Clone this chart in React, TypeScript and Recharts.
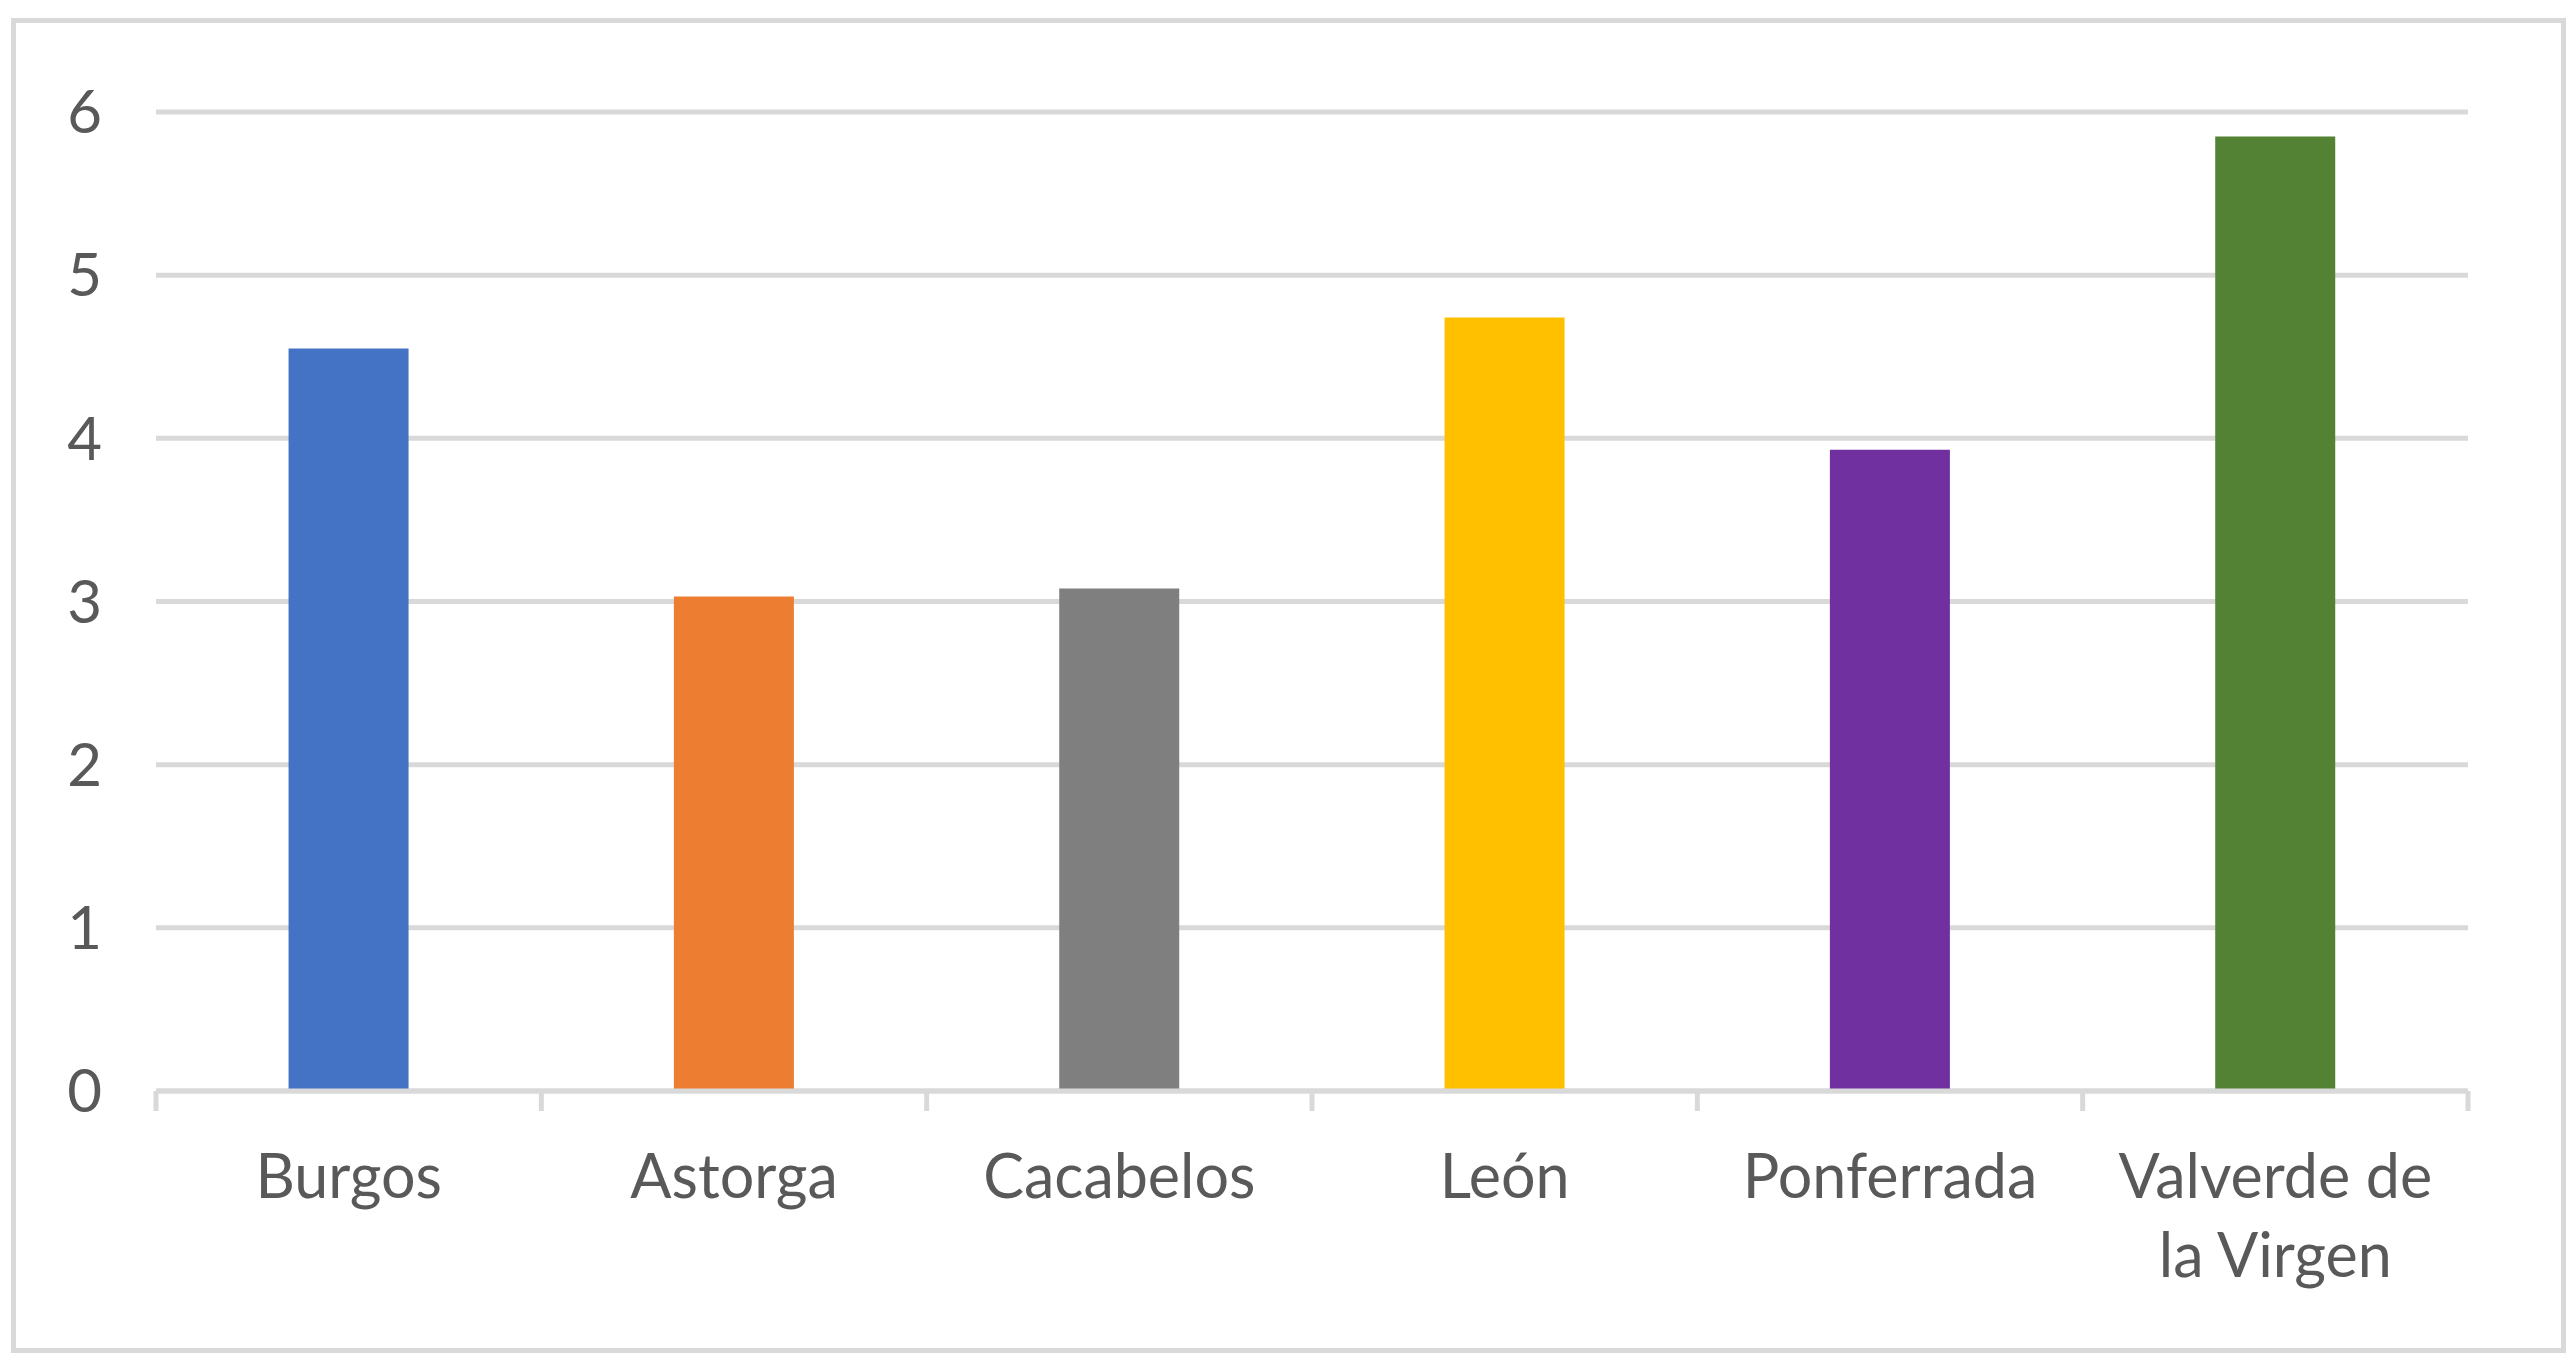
import React from 'react';
import { BarChart, Bar, XAxis, YAxis, CartesianGrid, Cell } from 'recharts';

const cities = ['Burgos', 'Astorga', 'Cacabelos', 'León', 'Ponferrada', 'Valverde de la Virgen'];
const values = [4.55, 3.03, 3.08, 4.74, 3.93, 5.85];
const barColors = ['#4472C4', '#ED7D31', '#7F7F7F', '#FFC000', '#7030A0', '#548235'];
const yTicks = [0, 1, 2, 3, 4, 5, 6];

const W = 2576;
const H = 1368;
const margin = { top: 112, right: 108, bottom: 247, left: 96 };
const yAxisWidth = 60;
const FONT = 'Lato, "Open Sans", sans-serif';
const TEXT_COLOR = '#595959';
const GRID = '#D9D9D9';

const data = cities.map((name, i) => ({ name, value: values[i] }));
const bandWidth = (W - margin.left - yAxisWidth - margin.right) / cities.length;

// greedy word wrap by character count (labels are short)
function wrap(label: string, maxChars = 12) {
  const lines: string[] = [];
  let cur = '';
  label.split(' ').forEach((w) => {
    const next = cur ? cur + ' ' + w : w;
    if (next.length > maxChars && cur) {
      lines.push(cur);
      cur = w;
    } else {
      cur = next;
    }
  });
  if (cur) lines.push(cur);
  return lines;
}

function CityTick(props: any) {
  const { x, y, payload, index } = props;
  const left = x - bandWidth / 2;
  const lines = wrap(String(payload.value));
  return (
    <g>
      <line x1={left} x2={left} y1={y} y2={y + 20} stroke={GRID} strokeWidth={5} />
      {index === cities.length - 1 && (
        <line x1={x + bandWidth / 2} x2={x + bandWidth / 2} y1={y} y2={y + 20} stroke={GRID} strokeWidth={5} />
      )}
      <text x={x} y={y + 107} textAnchor="middle" fill={TEXT_COLOR} style={{ fontFamily: FONT, fontSize: 61 }}>
        {lines.map((l, i) => (
          <tspan key={i} x={x} dy={i === 0 ? 0 : 79}>
            {l}
          </tspan>
        ))}
      </text>
    </g>
  );
}

export default function App() {
  return (
    <div style={{ position: 'absolute', left: 0, top: 0, width: W, height: H, background: '#fff' }}>
      {/* chart border */}
      <div
        style={{
          position: 'absolute',
          left: 11,
          top: 18,
          width: 2555,
          height: 1335,
          border: `5px solid ${GRID}`,
          boxSizing: 'border-box',
        }}
      />
      <div style={{ position: 'absolute', left: 0, top: 0 }}>
        <BarChart width={W} height={H} data={data} margin={margin} barCategoryGap="34.4%">
          <CartesianGrid vertical={false} stroke={GRID} strokeWidth={5} />
          <XAxis
            dataKey="name"
            interval={0}
            height={30}
            axisLine={{ stroke: GRID, strokeWidth: 5 }}
            tickLine={false}
            tickSize={0}
            tickMargin={0}
            tick={<CityTick />}
          />
          <YAxis
            width={yAxisWidth}
            domain={[0, 6]}
            ticks={yTicks}
            axisLine={false}
            tickLine={false}
            tickSize={0}
            tickMargin={54}
            tick={{ fill: TEXT_COLOR, fontSize: 60, fontFamily: FONT }}
          />
          <Bar dataKey="value" isAnimationActive={false}>
            {data.map((d, i) => (
              <Cell key={d.name} fill={barColors[i]} />
            ))}
          </Bar>
        </BarChart>
      </div>
    </div>
  );
}
